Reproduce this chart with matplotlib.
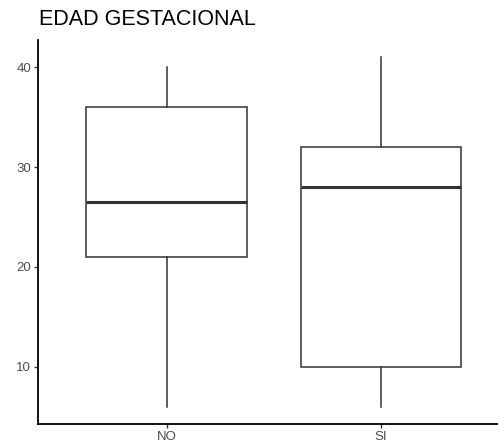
import matplotlib.pyplot as plt

plt.rcParams['font.family'] = ['Liberation Sans', 'DejaVu Sans']

# box summaries per group
groups = ['NO', 'SI']
whisker_low = [6, 6]
q1 = [21, 10]
median = [26.5, 28]
q3 = [36, 32]
whisker_high = [40, 41]
y_ticks = [10, 20, 30, 40]

stats = []
for i, name in enumerate(groups):
    stats.append({'label': name, 'whislo': whisker_low[i], 'q1': q1[i],
                  'med': median[i], 'q3': q3[i], 'whishi': whisker_high[i]})

fig = plt.figure(figsize=(4.98, 4.48), dpi=100)
ax = fig.add_axes([38 / 498, 24 / 448, 1 - 38 / 498, 384 / 448])

line_col = '#333333'
ax.bxp(stats, positions=[1, 2], widths=0.75, showfliers=False, showcaps=False,
       patch_artist=True,
       boxprops=dict(facecolor='white', edgecolor=line_col, linewidth=1.1),
       whiskerprops=dict(color=line_col, linewidth=1.1),
       medianprops=dict(color=line_col, linewidth=2.2, solid_capstyle='butt'))

ax.set_xlim(0.4, 2.546)
lo = min(whisker_low)
hi = max(whisker_high)
pad = (hi - lo) * 0.05
ax.set_ylim(lo - pad, hi + pad)
ax.set_yticks(y_ticks)
ax.set_xticks([1, 2])
ax.set_xticklabels(groups)

for side in ['top', 'right']:
    ax.spines[side].set_visible(False)
for side in ['left', 'bottom']:
    ax.spines[side].set_color('black')
    ax.spines[side].set_linewidth(1.3)
ax.tick_params(axis='both', colors='#333333', labelcolor='#4d4d4d',
               labelsize=9.5, length=3, width=1, pad=2)

ax.set_title('EDAD GESTACIONAL', loc='left', fontsize=15.5, pad=11, x=0.002)

fig.savefig('out.png', dpi=100)
